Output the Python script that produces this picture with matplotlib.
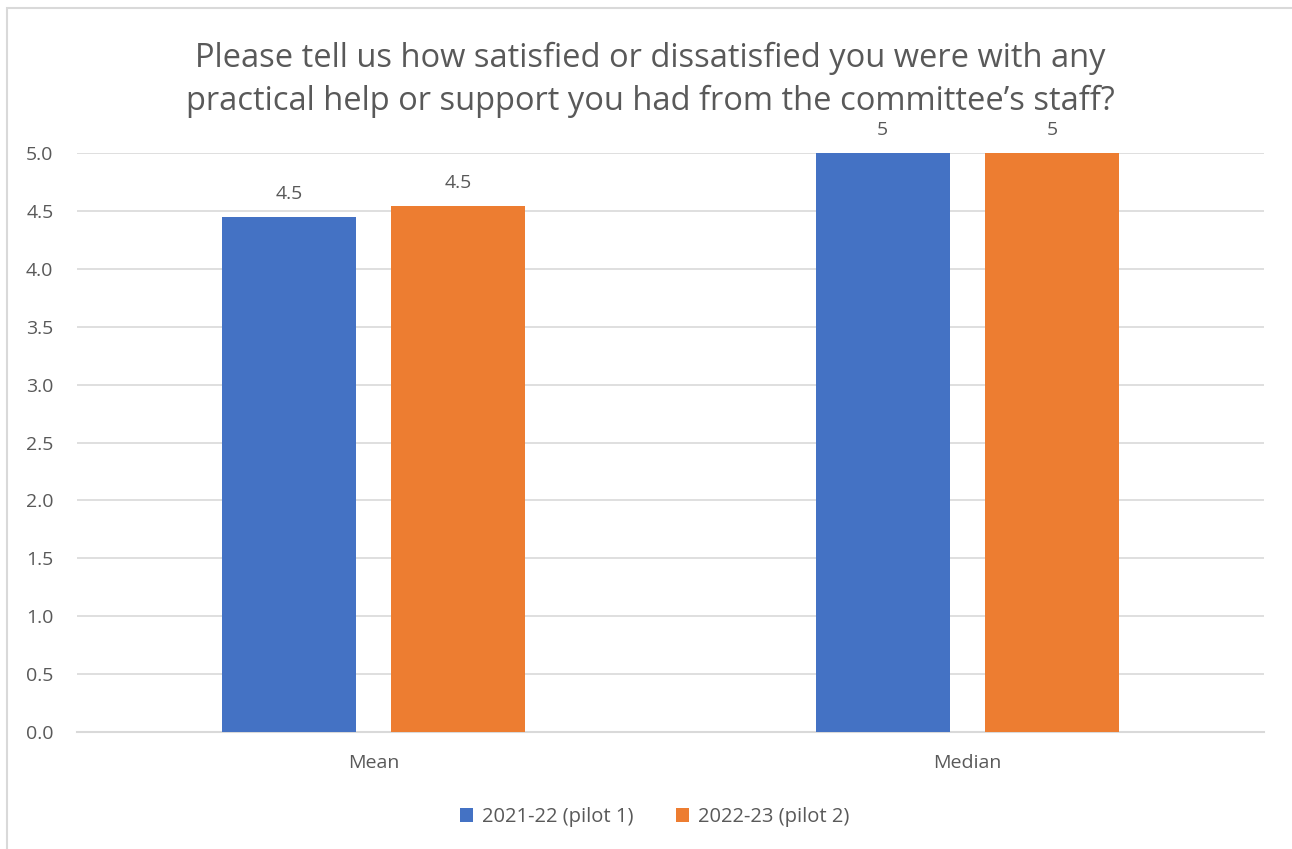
import matplotlib
matplotlib.use("Agg")
import matplotlib.pyplot as plt
from matplotlib.patches import Rectangle
import numpy as np

categories = ["Mean", "Median"]
series_names = ["2021-22 (pilot 1)", "2022-23 (pilot 2)"]
values_2021 = [4.45, 5.0]
values_2022 = [4.54, 5.0]
colors = ["#4472C4", "#ED7D31"]
yticks = [0.0, 0.5, 1.0, 1.5, 2.0, 2.5, 3.0, 3.5, 4.0, 4.5, 5.0]
title = "Please tell us how satisfied or dissatisfied you were with any\npractical help or support you had from the committee\u2019s staff?"

plt.rcParams['font.family'] = ['Open Sans', 'DejaVu Sans']
text_color = "#595959"

W, H = 1292, 849
fig = plt.figure(figsize=(W / 100, H / 100), dpi=100)
# chart border (cropped on right/bottom in reference)
fig.patches.append(Rectangle((7 / W, -0.1), 2.0, 1 - 8 / H + 0.1, transform=fig.transFigure,
                             fill=False, edgecolor="#D9D9D9", linewidth=1.5))

ax = fig.add_axes([77 / W, 1 - 732 / H, (1264 - 77) / W, (732 - 153) / H])
x = np.arange(len(categories))
bw = 0.2258
off = 0.1425
series = [values_2021, values_2022]
for i, (vals, name, c) in enumerate(zip(series, series_names, colors)):
    pos = x + (-off if i == 0 else off)
    bars = ax.bar(pos, vals, width=bw, color=c, label=name, zorder=3)
    for b, v in zip(bars, vals):
        lab = f"{v:g}" if float(v).is_integer() else f"{v:.1f}"
        ax.annotate(lab, (b.get_x() + b.get_width() / 2, v), xytext=(0, 10),
                    textcoords="offset points", ha="center", va="bottom",
                    fontsize=14, color=text_color)

ax.set_xlim(-0.5, 1.5)
ax.set_ylim(0, 5)
ax.set_yticks(yticks)
ax.set_yticklabels([f"{t:.1f}" for t in yticks])
ax.set_xticks(x)
ax.set_xticklabels(categories)
ax.grid(axis="y", color="#D9D9D9", linewidth=1.2, zorder=0)
for s in ["top", "right", "left"]:
    ax.spines[s].set_visible(False)
ax.spines["bottom"].set_color("#D9D9D9")
ax.spines["bottom"].set_linewidth(1.5)
ax.tick_params(axis="both", length=0, colors=text_color, labelsize=14)
ax.tick_params(axis="y", pad=17)
ax.tick_params(axis="x", pad=16)

fig.text(650 / W, 1 - 80 / H, title, ha="center", va="center", fontsize=23.5,
         color=text_color, linespacing=1.36)

leg = fig.legend(loc="center", bbox_to_anchor=(655 / W, 1 - 817 / H), ncol=2, frameon=False,
                 fontsize=14.5, handlelength=0.65, handleheight=0.65, handletextpad=0.45,
                 columnspacing=2.1)
for t in leg.get_texts():
    t.set_color(text_color)

fig.savefig("out.png", dpi=100)
